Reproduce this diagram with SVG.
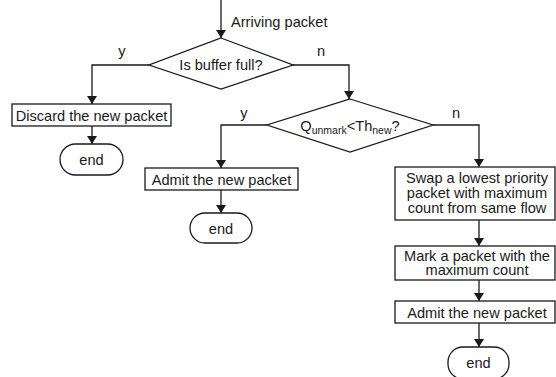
<svg xmlns="http://www.w3.org/2000/svg" width="556" height="377" viewBox="0 0 556 377">
<defs>
<marker id="ah" markerWidth="8" markerHeight="10" refX="8" refY="5" orient="auto" markerUnits="userSpaceOnUse">
<path d="M0,0 L8,5 L0,10 Z" fill="#1a1a1a"/>
</marker>
<style>
.s{fill:#fff;stroke:#1a1a1a;stroke-width:1.3}
.c{fill:none;stroke:#1a1a1a;stroke-width:1.3;marker-end:url(#ah)}
text{font-family:"Liberation Sans",Arial,sans-serif;font-size:14.6px;fill:#1a1a1a}
.m{text-anchor:middle}
</style>
</defs>
<rect width="556" height="377" fill="#fff"/>
<g id="connectors">
<path class="c" d="M221,0 V38"/>
<path class="c" d="M149,65 H92 V104"/>
<path class="c" d="M293,65 H349 V99"/>
<path class="c" d="M92,126 V144"/>
<path class="c" d="M267,125 H221 V168"/>
<path class="c" d="M433,125 H479 V167"/>
<path class="c" d="M221,190 V213"/>
<path class="c" d="M479,220 V246"/>
<path class="c" d="M479,280 V301"/>
<path class="c" d="M479,323 V347"/>
<text x="231" y="27">Arriving packet</text>
<text x="122" y="56" class="m">y</text>
<text x="321" y="56" class="m">n</text>
<text x="244" y="118" class="m">y</text>
<text x="456" y="118" class="m">n</text>
</g>
<g id="d1">
<polygon class="s" points="221,38 293,65 221,89 149,65"/>
<text x="221" y="70" class="m">Is buffer full?</text>
</g>
<g id="discard">
<rect class="s" x="12" y="104" width="159" height="22"/>
<text x="91.5" y="120.5" class="m">Discard the new packet</text>
</g>
<g id="end1">
<rect class="s" x="60" y="144" width="63" height="31" rx="15.5"/>
<text x="91.5" y="164.5" class="m">end</text>
</g>
<g id="d2">
<polygon class="s" points="350,99 433,125 350,152 267,125"/>
<text x="350" y="131" class="m">Q<tspan font-size="10.5" dy="3">unmark</tspan><tspan dy="-3">&lt;Th</tspan><tspan font-size="10.5" dy="3">new</tspan><tspan dy="-3">?</tspan></text>
</g>
<g id="admit1">
<rect class="s" x="145" y="168" width="153" height="22"/>
<text x="221.5" y="184.5" class="m">Admit the new packet</text>
</g>
<g id="end2">
<rect class="s" x="190" y="213" width="62" height="30" rx="15"/>
<text x="221" y="233.5" class="m">end</text>
</g>
<g id="swap">
<rect class="s" x="395" y="167" width="160" height="53"/>
<text x="477" y="183" class="m">Swap a lowest priority</text>
<text x="477" y="198" class="m">packet with maximum</text>
<text x="477" y="213" class="m">count from same flow</text>
</g>
<g id="mark">
<rect class="s" x="395" y="246" width="160" height="34"/>
<text x="477" y="260.5" class="m">Mark a packet with the</text>
<text x="477" y="275" class="m">maximum count</text>
</g>
<g id="admit2">
<rect class="s" x="395" y="301" width="160" height="22"/>
<text x="477" y="317.5" class="m">Admit the new packet</text>
</g>
<g id="end3">
<rect class="s" x="448" y="347" width="61" height="32" rx="15"/>
<text x="478.5" y="367.5" class="m">end</text>
</g>
</svg>
